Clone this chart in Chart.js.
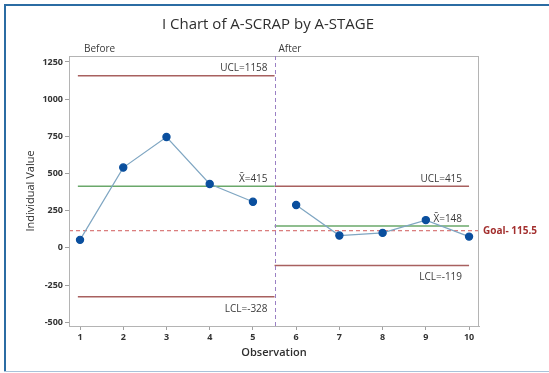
<!DOCTYPE html>
<html>
<head>
<meta charset="utf-8">
<script src="https://cdn.jsdelivr.net/npm/chart.js@4"></script>
<style>
  html, body { margin: 0; padding: 0; background: #fff; }
</style>
</head>
<body>
<canvas id="chart" width="549" height="373"></canvas>
<script>
// observations and individual scrap values
const observations = [1, 2, 3, 4, 5, 6, 7, 8, 9, 10];
const scrap = [54, 540, 745, 430, 310, 288, 83, 101, 187, 76];
const stages = ['Before', 'After'];
const yTicks = [-500, -250, 0, 250, 500, 750, 1000, 1250];

// control limits per stage
const beforeLimits = [1158, 415, -328]; // UCL, mean, LCL
const afterLimits = [415, 148, -119];
const goal = 115.5;
const stageSplit = 5.5;

const redLine = '#a8605f';
const greenLine = '#6aa86a';

const hLine = (x0, x1, y, color, extra) => Object.assign({
    data: [{ x: x0, y: y }, { x: x1, y: y }],
    borderColor: color,
    borderWidth: 1.5,
    pointRadius: 0,
    order: 2
}, extra || {});

const textPlugin = {
    id: 'textPlugin',
    beforeDraw(chart) {
        const c = chart.ctx;
        c.save();
        // outer frame
        c.fillStyle = '#2b6ca3';
        c.fillRect(4, 4, 545, 2);
        c.fillRect(4, 4, 2, 368);
        c.fillStyle = '#a9c3da';
        c.fillRect(4, 371, 545, 1);
        c.restore();
    },
    afterDatasetsDraw(chart) {
        const c = chart.ctx;
        const x = chart.scales.x, y = chart.scales.y;
        const a = chart.chartArea;
        c.save();
        // plot border
        c.strokeStyle = '#b4b4b4';
        c.lineWidth = 1;
        c.strokeRect(a.left + 0.5, a.top + 0.5, a.right - a.left - 1, a.bottom - a.top);
        // stage divider
        const dx = Math.round(x.getPixelForValue(stageSplit)) + 0.5;
        c.strokeStyle = '#9a80c4';
        c.setLineDash([4, 3]);
        c.beginPath();
        c.moveTo(dx, a.top);
        c.lineTo(dx, a.bottom);
        c.stroke();
        c.setLineDash([]);

        c.fillStyle = '#3a3a3a';
        c.font = '10px "Open Sans"';
        c.textBaseline = 'middle';
        c.textAlign = 'left';
        c.fillText(stages[0], x.getPixelForValue(1) + 4, a.top - 7);
        c.fillText(stages[1], dx + 3, a.top - 7);

        c.textAlign = 'right';
        const bx = x.getPixelForValue(stageSplit) - 7;
        c.fillText('UCL=' + beforeLimits[0], bx, y.getPixelForValue(beforeLimits[0]) - 7);
        c.fillText('X\u0304=' + beforeLimits[1], bx, y.getPixelForValue(beforeLimits[1]) - 7);
        c.fillText('LCL=' + beforeLimits[2], bx, y.getPixelForValue(beforeLimits[2]) + 12);
        const ax = x.getPixelForValue(10) - 7;
        c.fillText('UCL=' + afterLimits[0], ax, y.getPixelForValue(afterLimits[0]) - 7);
        c.fillText('X\u0304=' + afterLimits[1], ax, y.getPixelForValue(afterLimits[1]) - 7);
        c.fillText('LCL=' + afterLimits[2], ax, y.getPixelForValue(afterLimits[2]) + 12);

        // goal label
        c.textAlign = 'left';
        c.fillStyle = '#a3302f';
        c.font = 'bold 10px "Open Sans"';
        c.fillText('Goal- ' + goal, a.right + 4, y.getPixelForValue(goal));

        // title and axis titles
        c.fillStyle = '#2e2e2e';
        c.textAlign = 'center';
        c.font = '15px "Open Sans"';
        c.fillText('I Chart of A-SCRAP by A-STAGE', 268, 25);
        c.font = '600 11px "Open Sans"';
        c.fillText('Observation', (a.left + a.right) / 2, 353);
        c.translate(31, (a.top + a.bottom) / 2);
        c.rotate(-Math.PI / 2);
        c.font = '11px "Open Sans"';
        c.fillText('Individual Value', 0, 0);
        c.restore();
    }
};

new Chart(document.getElementById('chart'), {
    type: 'line',
    data: {
        datasets: [
            {
                data: observations.map((o, i) => ({ x: o, y: scrap[i] })),
                segment: {
                    borderColor: s => s.p0.parsed.x < stageSplit && s.p1.parsed.x > stageSplit ? 'transparent' : '#7fa6c2'
                },
                borderColor: '#7fa6c2',
                borderWidth: 1.2,
                pointRadius: 3.6,
                pointBackgroundColor: '#0a4f9e',
                pointBorderColor: '#0a4f9e',
                order: 0
            },
            hLine(0.95, stageSplit, beforeLimits[0], redLine),
            hLine(0.95, stageSplit, beforeLimits[1], greenLine),
            hLine(0.95, stageSplit, beforeLimits[2], redLine),
            hLine(stageSplit, 10, afterLimits[0], redLine),
            hLine(stageSplit, 10, afterLimits[1], greenLine),
            hLine(stageSplit, 10, afterLimits[2], redLine),
            hLine(0.745, 10.23, goal, '#d05a5a', { borderDash: [4, 3], borderWidth: 1, order: 1 })
        ]
    },
    options: {
        responsive: false,
        animation: false,
        layout: { padding: { left: 0, top: 56, right: 70, bottom: 0 } },
        plugins: {
            legend: { display: false },
            tooltip: { enabled: false }
        },
        scales: {
            x: {
                type: 'linear',
                min: 0.745,
                max: 10.23,
                afterBuildTicks: s => { s.ticks = observations.map(v => ({ value: v })); },
                afterFit: s => { s.height = 47; },
                grid: { drawOnChartArea: false, tickLength: 4, color: '#a0a0a0' },
                border: { color: '#b4b4b4' },
                ticks: { color: '#333', font: { size: 9, weight: 'bold', family: '"Open Sans"' }, padding: 2, callback: v => String(v) }
            },
            y: {
                min: -525,
                max: 1290,
                afterBuildTicks: s => { s.ticks = yTicks.map(v => ({ value: v })); },
                afterFit: s => { s.width = 69; },
                grid: { drawOnChartArea: false, tickLength: 4, color: '#a0a0a0' },
                border: { color: '#b4b4b4' },
                ticks: { color: '#333', font: { size: 9, weight: 'bold', family: '"Open Sans"' }, padding: 2, callback: v => String(v) }
            }
        }
    },
    plugins: [textPlugin]
});
</script>
</body>
</html>
